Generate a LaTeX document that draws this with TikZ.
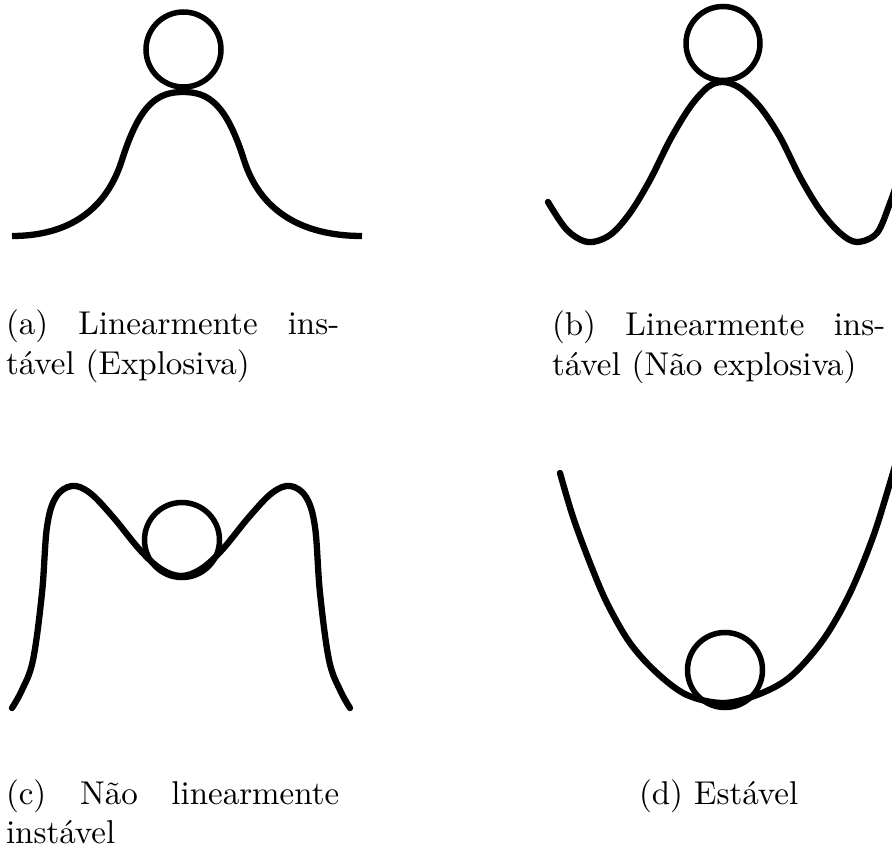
\documentclass[tikz,border=0pt]{standalone}
\usepackage{fontspec}
\usepackage{graphicx}
\tikzset{
  curve/.style={line width=6.3pt, line cap=round, line join=round},
  ball/.style={line width=5.5pt},
  captionnode/.style={anchor=base west, inner sep=0pt, outer sep=0pt}
}
\newcommand{\captext}[1]{\scalebox{3.3}{\begin{minipage}[t]{101pt}\fontsize{10}{12}\selectfont\hbadness=10000\noindent #1\end{minipage}}}
\begin{document}
\begin{tikzpicture}[x=1pt, y=-1pt]
\clip (0,0) rectangle (892,850);
\fill[white] (0,0) rectangle (892,850);
% (a)
\draw[curve, line cap=butt] (12,236) .. controls (60,236) and (104,217) .. (122,160)
  .. controls (140,103) and (158,92) .. (183,92)
  .. controls (208,92) and (226,103) .. (244,160)
  .. controls (262,217) and (310,236) .. (362,236);
\draw[ball] (183.5,49.5) circle[radius=37.5];
% (b)
\draw[curve] plot[smooth, tension=0.55] coordinates {(548,202) (567,230) (588,242) (610,235) (630,213) (650,180) (670,140) (690,107) (708,87) (723,82) (740,88) (760,107) (780,137) (800,177) (820,210) (840,233) (857,242) (877,233) (890,203) (898,180)};
\draw[ball] (723,43.5) circle[radius=37];
% (c)
\draw[curve] plot[smooth, tension=0.6] coordinates {(12,708) (22,690) (33,660) (42,593) (47,527) (56,497) (72,486) (90,493) (113,517) (140,550) (161,569) (181,576) (201,569) (222,550) (249,517) (272,493) (290,486) (306,497) (315,527) (320,593) (329,660) (340,690) (350,708)};
\draw[ball] (182,540) circle[radius=37.5];
% (d)
\draw[curve] plot[smooth, tension=0.55] coordinates {(560,473) (573,517) (590,563) (607,603) (630,643) (657,673) (687,695) (723,703) (757,695) (790,677) (823,640) (850,593) (873,537) (890,483) (898,455)};
\draw[ball] (725,670) circle[radius=37.5];
% captions
\node[captionnode] (ca) at (6,335) {\captext{(a) Linearmente ins-\linebreak tável (Explosiva)}};
\node[captionnode] (cb) at (552,336) {\captext{(b) Linearmente ins-\linebreak tável (Não explosiva)}};
\node[captionnode] (cc) at (6,804) {\captext{(c) Não linearmente\linebreak instável}};
\node[captionnode] (cd) at (552,804) {\captext{\centering (d) Estável}};
\end{tikzpicture}
\end{document}
